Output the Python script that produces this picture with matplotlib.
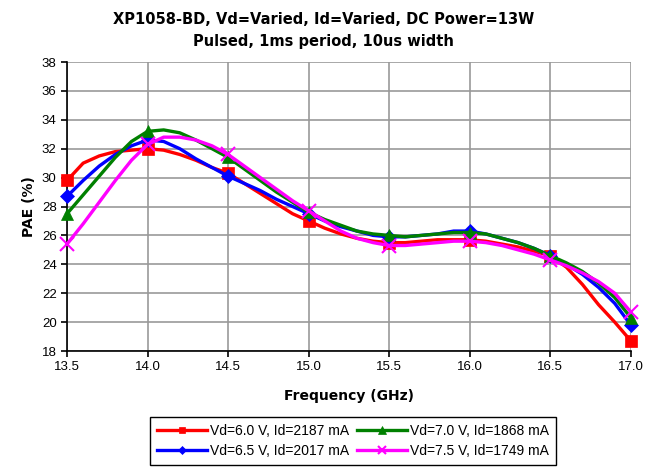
import matplotlib
matplotlib.use("Agg")
import matplotlib.pyplot as plt
import numpy as np

freq = [13.5, 13.6, 13.7, 13.8, 13.9, 14.0, 14.1, 14.2, 14.3, 14.4,
        14.5, 14.6, 14.7, 14.8, 14.9, 15.0, 15.1, 15.2, 15.3, 15.4,
        15.5, 15.6, 15.7, 15.8, 15.9, 16.0, 16.1, 16.2, 16.3, 16.4,
        16.5, 16.6, 16.7, 16.8, 16.9, 17.0]

pae_60 = [29.8, 31.0, 31.5, 31.8, 31.9, 32.0, 31.9, 31.6, 31.2, 30.7,
          30.3, 29.6, 28.9, 28.2, 27.5, 27.0, 26.5, 26.1, 25.8, 25.6,
          25.5, 25.5, 25.6, 25.7, 25.7, 25.7, 25.6, 25.4, 25.2, 24.9,
          24.6, 23.8, 22.6, 21.2, 20.0, 18.7]
pae_65 = [28.7, 29.8, 30.8, 31.6, 32.2, 32.6, 32.5, 32.0, 31.3, 30.7,
          30.1, 29.6, 29.1, 28.5, 28.0, 27.5, 27.0, 26.6, 26.3, 26.0,
          25.9, 25.9, 26.0, 26.1, 26.3, 26.3, 26.1, 25.8, 25.5, 25.1,
          24.6, 24.0, 23.3, 22.4, 21.3, 19.8]
pae_70 = [27.5, 28.8, 30.1, 31.4, 32.5, 33.2, 33.3, 33.1, 32.6, 32.0,
          31.4, 30.6, 29.8, 29.0, 28.3, 27.6, 27.1, 26.7, 26.3, 26.1,
          26.0, 25.9, 26.0, 26.1, 26.2, 26.2, 26.1, 25.8, 25.5, 25.1,
          24.6, 24.1, 23.5, 22.7, 21.7, 20.3]
pae_75 = [25.4, 26.8, 28.3, 29.8, 31.2, 32.3, 32.8, 32.8, 32.6, 32.2,
          31.6, 30.8, 30.0, 29.2, 28.4, 27.7, 27.0, 26.3, 25.8, 25.5,
          25.3, 25.3, 25.4, 25.5, 25.6, 25.6, 25.5, 25.3, 25.0, 24.7,
          24.3, 23.9, 23.4, 22.8, 22.0, 20.7]

labels = ["Vd=6.0 V, Id=2187 mA", "Vd=6.5 V, Id=2017 mA",
          "Vd=7.0 V, Id=1868 mA", "Vd=7.5 V, Id=1749 mA"]

fig = plt.figure(figsize=(6.47, 4.68), dpi=100)
ax = fig.add_axes([0.1036, 0.25, 0.8714, 0.6175])

styles = [("red", "s", 8), ("blue", "D", 7), ("green", "^", 9), ("magenta", "x", 10)]
series = [pae_60, pae_65, pae_70, pae_75]
for vals, (c, m, ms), lab in zip(series, styles, labels):
    ax.plot(freq, vals, color=c, lw=2.4, marker=m, ms=ms, markevery=5,
            mew=1.5 if m == "x" else 0.5, mec=c, mfc=c, label=lab,
            clip_on=False, zorder=3)

ax.set_xlim(13.5, 17.0)
ax.set_ylim(18, 38)
ax.set_xticks(np.arange(13.5, 17.01, 0.5))
ax.set_xticklabels(["%.1f" % v for v in np.arange(13.5, 17.01, 0.5)])
ax.set_yticks(range(18, 39, 2))
ax.grid(True, color="#999999", lw=1.2)
ax.set_axisbelow(True)
for s in ["top", "right"]:
    ax.spines[s].set_visible(False)
ax.spines["left"].set_linewidth(1.2)
ax.spines["bottom"].set_linewidth(1.2)
ax.tick_params(direction="out", length=4, width=1.2, labelsize=9.5)
for t in ax.get_xticklabels() + ax.get_yticklabels():
    t.set_family("Liberation Sans")

ax.set_xlabel("Frequency (GHz)", fontsize=10, fontweight="bold", labelpad=11)
ax.set_ylabel("PAE (%)", fontsize=10, fontweight="bold")
fig.suptitle("XP1058-BD, Vd=Varied, Id=Varied, DC Power=13W\nPulsed, 1ms period, 10us width",
             fontsize=10.5, fontweight="bold", y=0.975, linespacing=1.6)

fig.legend(loc="center", bbox_to_anchor=(0.546, 0.058), ncol=2, fancybox=False,
           edgecolor="black", framealpha=1, prop={"family": "Liberation Sans", "size": 10},
           handlelength=3.6, handletextpad=0.2, columnspacing=0.6, borderpad=0.5,
           labelspacing=0.45, markerscale=0.6)

fig.savefig("out.png", dpi=100)
